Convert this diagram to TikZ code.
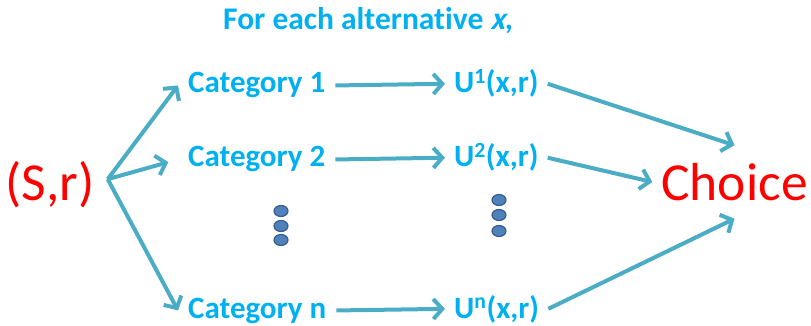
\documentclass[tikz,border=0pt]{standalone}
\usepackage{fontspec}
\setmainfont{Carlito}[Ligatures=NoCommon]
\newfontfamily\slantfont{Carlito Bold}[FakeSlant=0.25]
\usetikzlibrary{arrows.meta}
\definecolor{txtblue}{HTML}{00B0F0}
\definecolor{arrowc}{HTML}{4BACC6}
\definecolor{dotfill}{HTML}{4F81BD}
\definecolor{dotdraw}{HTML}{385D8A}
\definecolor{redc}{HTML}{FF0000}
\tikzset{
  lbl/.style={text=txtblue, font=\fontsize{31}{36}\selectfont\bfseries, inner sep=0pt, anchor=base west},
  cat/.style={lbl, inner xsep=10pt},
  util/.style={lbl, inner xsep=9pt},
  big/.style={text=redc, font=\fontsize{53.5}{62}\selectfont},
  conn/.style={draw=arrowc, line width=4pt, line join=round,
    -{Straight Barb[length=9pt,width=20pt,line width=4pt]}},
  dotm/.style={fill=dotfill, draw=dotdraw, line width=1.2pt}
}
\begin{document}
\begin{tikzpicture}[x=1pt,y=-1pt]
\useasboundingbox (0,0) rectangle (811,326);
% title
\node[text=txtblue, font=\fontsize{31.5}{36}\selectfont\bfseries, inner sep=0pt, anchor=base west] (title) at (223,30) {For each alternative {\slantfont x},};
% source and target
\node[big, anchor=base, inner sep=0pt, inner xsep=13pt] (sr) at (50,200) {(S,r)};
\node[big, minimum width=164pt, minimum height=73pt, inner sep=0pt] (ch) at (734.5,182) {Choice};
\coordinate (fork) at ([yshift=5pt]sr.east);
% categories
\node[cat, xshift=-10pt] (c1) at (188,93) {Category 1};
\node[cat, xshift=-10pt] (c2) at (188,167) {Category 2};
\node[cat, xshift=-10pt] (cn) at (188,318) {Category n};
% utilities
\node[util, xshift=-9pt] (u1) at (454,93) {U\textsuperscript{1}(x,r)};
\node[util, xshift=-9pt] (u2) at (454,167) {U\textsuperscript{2}(x,r)};
\node[util, xshift=-9pt] (un) at (454,318) {U\textsuperscript{n}(x,r)};
% connectors
\draw[conn] (fork) -- (c1.west);
\draw[conn, shorten >=10pt] (fork) -- (c2.west);
\draw[conn] (fork) -- (cn.west);
\draw[conn] (c1.east) -- (u1.west);
\draw[conn] (c2.east) -- (u2.west);
\draw[conn] (cn.east) -- (un.west);
\draw[conn] (u1.east) -- (ch.north);
\draw[conn] (u2.east) -- (ch.west);
\draw[conn] (un.east) -- (ch.south);
% vertical ellipses
\foreach \yy in {211,226,240} \draw[dotm] (281,\yy) ellipse [x radius=7, y radius=5.5];
\foreach \yy in {200,215,231} \draw[dotm] (499,\yy) ellipse [x radius=7, y radius=5.5];
\end{tikzpicture}
\end{document}
